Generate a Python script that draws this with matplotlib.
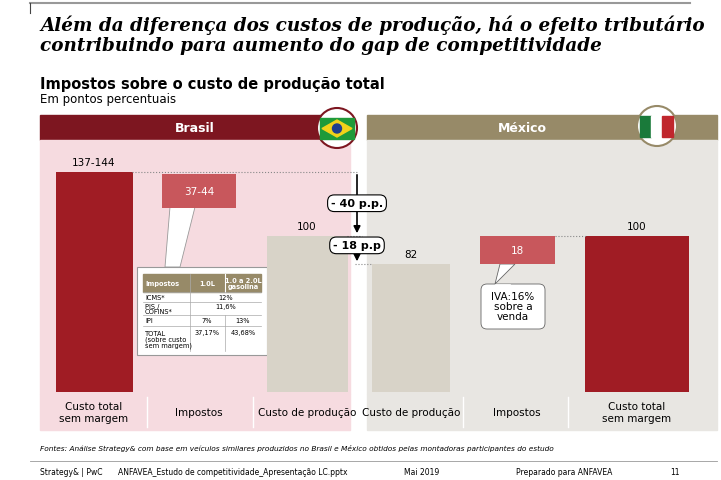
import matplotlib.pyplot as plt
from matplotlib.patches import Rectangle, Polygon, Circle, FancyBboxPatch

W, H = 721, 481

categories = ["Custo total\nsem margem", "Impostos", "Custo de produção",
              "Custo de produção", "Impostos", "Custo total\nsem margem"]
bar_bottom = [0, 118, 0, 0, 82, 0]
bar_top = [141, 140, 100, 82, 100, 100]
bar_labels = ["137-144", "37-44", "100", "82", "18", "100"]
bar_colors = ["#a01c24", "#c8575c", "#d8d3c8", "#d8d3c8", "#c8575c", "#a01c24"]
x_centers = [94, 199, 307, 411, 517, 637]
x_widths = [77, 74, 81, 78, 75, 104]

fig = plt.figure(figsize=(W / 100, H / 100), dpi=100)
bg = fig.add_axes([0, 0, 1, 1])
bg.set_xlim(0, W)
bg.set_ylim(H, 0)
bg.axis("off")

# top rule
bg.plot([30, 690], [4, 4], color="#999999", lw=1.5)
bg.plot([30, 30], [4, 14], color="#444444", lw=0.8)

bg.text(40, 35, "Além da diferença dos custos de produção, há o efeito tributário\ncontribuindo para aumento do gap de competitividade",
        fontsize=13.2, family="DejaVu Serif", style="italic", weight="bold",
        va="center", ha="left", linespacing=1.15)
bg.text(40, 85, "Impostos sobre o custo de produção total", fontsize=10.5, weight="bold", va="center")
bg.text(40, 100, "Em pontos percentuais", fontsize=8.5, va="center")

# panels
bg.add_patch(Rectangle((40, 116), 310, 25, color="#7d1620"))
bg.add_patch(Rectangle((40, 141), 310, 254, color="#f6dbe0"))
bg.add_patch(Rectangle((367, 116), 350, 25, color="#978a68"))
bg.add_patch(Rectangle((367, 141), 350, 254, color="#e8e6e2"))
bg.text(195, 128, "Brasil", color="white", fontsize=9, weight="bold", ha="center", va="center")
bg.text(522, 128, "México", color="white", fontsize=9, weight="bold", ha="center", va="center")
bg.add_patch(Circle((337, 129), 20, facecolor="white", edgecolor="#7d1620", lw=1.5, zorder=3))
bg.add_patch(Rectangle((320, 119), 34, 21, color="#1f9a3a", zorder=4))
bg.add_patch(Polygon([[322, 129.5], [337, 121], [352, 129.5], [337, 138]], color="#f2d21a", zorder=4))
bg.add_patch(Circle((337, 129.5), 4.5, color="#1f3f8f", zorder=5))
bg.add_patch(Circle((657, 127), 20, facecolor="white", edgecolor="#978a68", lw=1.5, zorder=3))
bg.add_patch(Rectangle((640, 117), 11, 21, color="#1a7a3a", zorder=4))
bg.add_patch(Rectangle((651, 117), 11, 21, color="white", zorder=4))
bg.add_patch(Rectangle((662, 117), 11, 21, color="#c0272d", zorder=4))

# category label band
bg.add_patch(Rectangle((40, 395), 310, 36, color="#f6dbe0"))
bg.add_patch(Rectangle((367, 395), 350, 36, color="#e8e6e2"))
for xs in [147, 253, 463, 568]:
    bg.plot([xs, xs], [398, 428], color="white", lw=1)
for xc, lab in zip(x_centers, categories):
    bg.text(xc, 413, lab, fontsize=7.5, ha="center", va="center")

bg.text(40, 449, "Fontes: Análise Strategy& com base em veículos similares produzidos no Brasil e México obtidos pelas montadoras participantes do estudo",
        fontsize=5.3, style="italic", va="center")
bg.plot([30, 717], [462, 462], color="#999999", lw=0.6)
for xf, t in [(40, "Strategy& | PwC"), (118, "ANFAVEA_Estudo de competitividade_Apresentação LC.pptx"),
              (404, "Mai 2019"), (516, "Preparado para ANFAVEA"), (670, "11")]:
    bg.text(xf, 473, t, fontsize=5.5, va="center")

# bar axes: pixel box x 0..721, y 141..393
ax = fig.add_axes([0, (H - 393) / H, 1, (393 - 141) / H])
ax.set_xlim(0, W)
ax.set_ylim(0, (393 - 141) / 1.56)
ax.axis("off")
heights = [t - b for t, b in zip(bar_top, bar_bottom)]
ax.bar(x_centers, heights, bottom=bar_bottom, width=x_widths, color=bar_colors)
for i, (xc, lab) in enumerate(zip(x_centers, bar_labels)):
    if i in (1, 4):
        ax.text(xc, (bar_top[i] + bar_bottom[i]) / 2, lab, color="white", fontsize=7.5, ha="center", va="center")
    else:
        ax.text(xc, bar_top[i] + 3, lab, fontsize=7.5, ha="center", va="bottom")

# dotted connectors
ax.plot([132, 358], [bar_top[0], bar_top[0]], ls=":", color="#888888", lw=0.8)
ax.plot([347, 362], [bar_top[2], bar_top[2]], ls=":", color="#888888", lw=0.8)
ax.plot([355, 372], [bar_top[3], bar_top[3]], ls=":", color="#888888", lw=0.8)
ax.plot([555, 587], [bar_top[4], bar_top[4]], ls=":", color="#888888", lw=0.8)

# gap arrows
ax.annotate("", xy=(357, bar_top[2]), xytext=(357, bar_top[0]),
            arrowprops=dict(arrowstyle="-|>", color="black", lw=1.2))
ax.annotate("", xy=(357, bar_top[3]), xytext=(357, bar_top[2]),
            arrowprops=dict(arrowstyle="<|-|>", color="black", lw=1.2))
ax.text(357, 121, "- 40 p.p.", fontsize=8, weight="bold", ha="center", va="center",
        bbox=dict(boxstyle="round,pad=0.3,rounding_size=0.6", fc="white", ec="black", lw=0.8))
ax.text(357, 94, "- 18 p.p", fontsize=8, weight="bold", ha="center", va="center",
        bbox=dict(boxstyle="round,pad=0.3,rounding_size=0.6", fc="white", ec="black", lw=0.8))

# callout for Mexico taxes
bg.add_patch(Polygon([[500, 265], [515, 265], [495, 285]], fc="white", ec="#666666", lw=0.6, zorder=5))
bg.add_patch(FancyBboxPatch((481, 285), 64, 45, boxstyle="round,pad=0,rounding_size=6",
                            fc="white", ec="#666666", lw=0.6, zorder=5))
bg.plot([496, 510], [285.5, 285.5], color="white", lw=1.2, zorder=6)
bg.text(513, 307, "IVA:16%\nsobre a\nvenda", fontsize=7.5, ha="center", va="center", zorder=7, linespacing=1.0)

# tax table callout
bg.add_patch(Polygon([[170, 208], [195, 208], [180, 268], [165, 268]], fc="white", ec="#999999", lw=0.6, zorder=5))
bg.add_patch(Rectangle((137, 268), 130, 88, fc="white", ec="#999999", lw=0.8, zorder=5))
bg.add_patch(Rectangle((143, 275), 118, 18, color="#978a68", zorder=6))
bg.plot([190, 190], [275, 352], color="#aaaaaa", lw=0.5, zorder=7)
bg.plot([225, 225], [275, 293], color="white", lw=0.8, zorder=7)
bg.plot([225, 225], [316, 352], color="#aaaaaa", lw=0.5, zorder=7)
for yl in [293, 303, 316, 327]:
    bg.plot([143, 261], [yl, yl], color="#aaaaaa", lw=0.5, zorder=7)
kw = dict(fontsize=4.8, zorder=8, va="center")
bg.text(145, 284, "Impostos", color="white", weight="bold", **kw)
bg.text(207, 284, "1.0L", color="white", weight="bold", ha="center", **kw)
bg.text(243, 284, "1.0 a 2.0L\ngasolina", color="white", weight="bold", ha="center", linespacing=0.9, **kw)
bg.text(145, 298, "ICMS*", **kw)
bg.text(226, 298, "12%", ha="center", **kw)
bg.text(145, 309.5, "PIS /\nCOFINS*", linespacing=0.9, **kw)
bg.text(226, 307, "11,6%", ha="center", **kw)
bg.text(145, 321.5, "IPI", **kw)
bg.text(207, 321.5, "7%", ha="center", **kw)
bg.text(243, 321.5, "13%", ha="center", **kw)
bg.text(145, 340, "TOTAL\n(sobre custo\nsem margem)", linespacing=0.9, **kw)
bg.text(207, 333, "37,17%", ha="center", **kw)
bg.text(243, 333, "43,68%", ha="center", **kw)

fig.savefig("out.png", dpi=100)
